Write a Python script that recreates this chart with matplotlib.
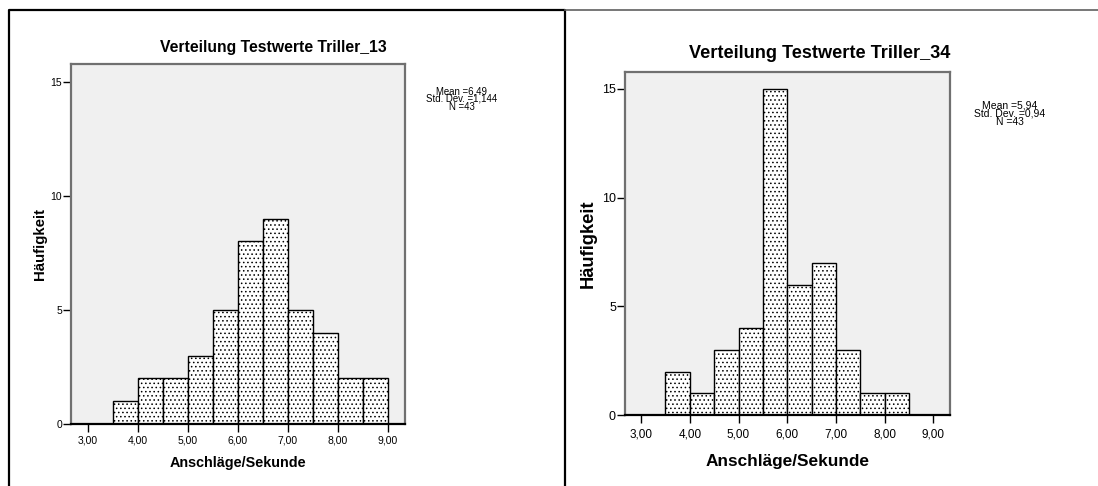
import matplotlib
matplotlib.use("Agg")
import matplotlib.pyplot as plt
from matplotlib.lines import Line2D

plt.rcParams['font.family'] = ['Liberation Sans', 'DejaVu Sans']
plt.rcParams['hatch.color'] = '#222222'
plt.rcParams['hatch.linewidth'] = 0.6

# histogram bins (left edges, width 0.5)
bins_13 = [3.5, 4.0, 4.5, 5.0, 5.5, 6.0, 6.5, 7.0, 7.5, 8.0, 8.5]
counts_13 = [1, 2, 2, 3, 5, 8, 9, 5, 4, 2, 2]
bins_34 = [3.5, 4.0, 4.5, 5.0, 5.5, 6.0, 6.5, 7.0, 7.5, 8.0]
counts_34 = [2, 1, 3, 4, 15, 6, 7, 3, 1, 1]

stats_13 = {'mean': 6.49, 'sd': 1.144, 'n': 43}
stats_34 = {'mean': 5.94, 'sd': 0.94, 'n': 43}

xticks = [3, 4, 5, 6, 7, 8, 9]
yticks = [0, 5, 10, 15]

W, H = 1098, 486
fig = plt.figure(figsize=(W / 100, H / 100), dpi=100)


def px(x, y):
    return x / W, 1 - y / H


def de(v, nd):
    return f"{v:.{nd}f}".replace('.', ',')


def panel(box, bins, counts, title, title_xy, title_fs, stats, sd_nd, stats_xy,
          stats_fs, stats_gap, ylab_x, ylab_fs, xlab_y, xlab_fs, xtick_fs,
          ytick_fs, xpad):
    l, t, r, b = box
    ax = fig.add_axes([l / W, 1 - b / H, (r - l) / W, (b - t) / H])
    ax.set_facecolor('#f0f0f0')
    ax.bar(bins, counts, width=0.5, align='edge', color='white',
           edgecolor='black', linewidth=1.0, hatch='....')
    ax.set_xlim(2.67, 9.34)
    ax.set_ylim(0, 15.78)
    ax.set_xticks(xticks)
    ax.set_xticklabels([de(v, 2) for v in xticks], fontsize=xtick_fs)
    ax.set_yticks(yticks)
    ax.set_yticklabels([str(v) for v in yticks], fontsize=ytick_fs)
    ax.tick_params(axis='x', length=6, width=1, pad=xpad, color='black')
    ax.tick_params(axis='y', length=6, width=1, pad=0.5, color='black')
    for s in ['top', 'right', 'left']:
        ax.spines[s].set_color('#707070')
        ax.spines[s].set_linewidth(1.6)
    ax.spines['bottom'].set_color('black')
    ax.spines['bottom'].set_linewidth(1.6)

    fig.text(*px(*title_xy), title, ha='center', va='center',
             fontsize=title_fs, fontweight='bold')
    lines = [f"Mean ={de(stats['mean'], 2)}",
             f"Std. Dev. ={de(stats['sd'], sd_nd)}",
             f"N ={stats['n']}"]
    for i, s in enumerate(lines):
        fig.text(*px(stats_xy[0], stats_xy[1] + i * stats_gap), s,
                 ha='center', va='center', fontsize=stats_fs)
    fig.text(*px(ylab_x, (t + b) / 2), 'Häufigkeit', rotation=90,
             ha='center', va='center', fontsize=ylab_fs, fontweight='bold')
    fig.text(*px((l + r) / 2, xlab_y), 'Anschläge/Sekunde', ha='center',
             va='center', fontsize=xlab_fs, fontweight='bold')
    return ax


panel((71, 64, 405, 424), bins_13, counts_13, 'Verteilung Testwerte Triller_13',
      (273, 47), 11.3, stats_13, 3, (462, 91), 6.9, 7.9,
      40, 10.8, 463, 10.4, 7.5, 7.5, 2)
panel((625, 72, 950, 415), bins_34, counts_34, 'Verteilung Testwerte Triller_34',
      (820, 53), 13.1, stats_34, 2, (1010, 105), 7.5, 8.6,
      588, 13.2, 461, 12.4, 8.5, 9, 4)

# panel frames
fig.add_artist(Line2D([9 / W, 9 / W, 565 / W, 565 / W],
                      [0, 1 - 10 / H, 1 - 10 / H, 0], color='black', lw=1.6))
fig.add_artist(Line2D([565 / W, 1], [1 - 10.5 / H, 1 - 10.5 / H],
                      color='#606060', lw=1.2))

fig.savefig('out.png', dpi=100)
